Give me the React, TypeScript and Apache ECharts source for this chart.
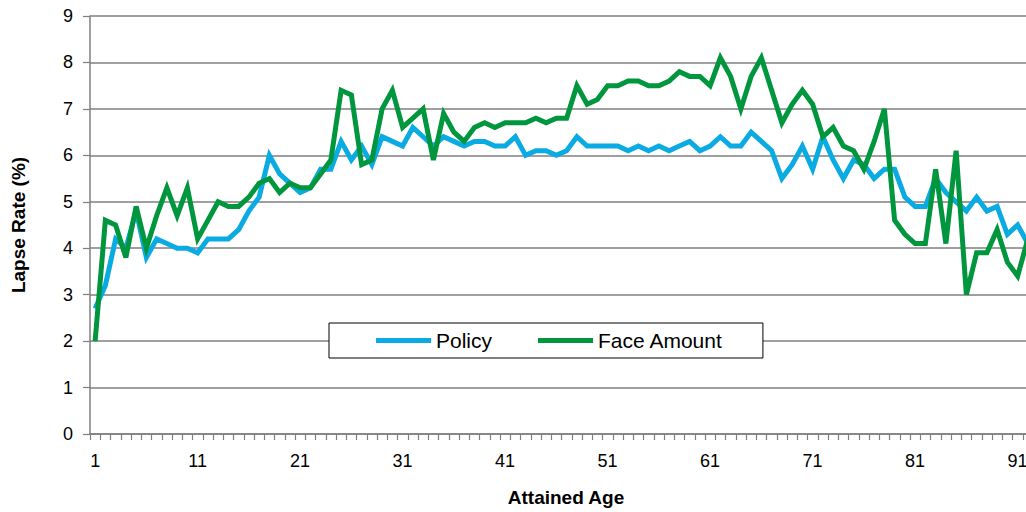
import React, { useEffect, useRef } from "react";
import * as echarts from "echarts";

const ages: string[] = [
  "1","2","3","4","5","6","7","8","9","10",
  "11","12","13","14","15","16","17","18","19","20",
  "21","22","23","24","25","26","27","28","29","30",
  "31","32","33","34","35","36","37","38","39","40",
  "41","42","43","44","45","46","47","48","49","50",
  "51","52","53","54","55","56","57","58","59","60",
  "61","62","63","64","65","66","67","68","69","70",
  "71","72","73","74","75","76","77","78","79","80",
  "81","82","83","84","85","86","87","88","89","90",
  "91","92",
];

const policy: number[] = [
  2.7, 3.2, 4.2, 4.0, 4.8, 3.8, 4.2, 4.1, 4.0, 4.0,
  3.9, 4.2, 4.2, 4.2, 4.4, 4.8, 5.1, 6.0, 5.6, 5.4,
  5.2, 5.3, 5.7, 5.7, 6.3, 5.9, 6.2, 5.8, 6.4, 6.3,
  6.2, 6.6, 6.4, 6.2, 6.4, 6.3, 6.2, 6.3, 6.3, 6.2,
  6.2, 6.4, 6.0, 6.1, 6.1, 6.0, 6.1, 6.4, 6.2, 6.2,
  6.2, 6.2, 6.1, 6.2, 6.1, 6.2, 6.1, 6.2, 6.3, 6.1,
  6.2, 6.4, 6.2, 6.2, 6.5, 6.3, 6.1, 5.5, 5.8, 6.2,
  5.7, 6.4, 5.9, 5.5, 5.9, 5.8, 5.5, 5.7, 5.7, 5.1,
  4.9, 4.9, 5.5, 5.2, 5.0, 4.8, 5.1, 4.8, 4.9, 4.3,
  4.5, 4.1,
];

const faceAmount: number[] = [
  2.0, 4.6, 4.5, 3.8, 4.9, 4.0, 4.7, 5.3, 4.7, 5.3,
  4.2, 4.6, 5.0, 4.9, 4.9, 5.1, 5.4, 5.5, 5.2, 5.4,
  5.3, 5.3, 5.6, 5.9, 7.4, 7.3, 5.8, 5.9, 7.0, 7.4,
  6.6, 6.8, 7.0, 5.9, 6.9, 6.5, 6.3, 6.6, 6.7, 6.6,
  6.7, 6.7, 6.7, 6.8, 6.7, 6.8, 6.8, 7.5, 7.1, 7.2,
  7.5, 7.5, 7.6, 7.6, 7.5, 7.5, 7.6, 7.8, 7.7, 7.7,
  7.5, 8.1, 7.7, 7.0, 7.7, 8.1, 7.4, 6.7, 7.1, 7.4,
  7.1, 6.4, 6.6, 6.2, 6.1, 5.7, 6.3, 7.0, 4.6, 4.3,
  4.1, 4.1, 5.7, 4.1, 6.1, 3.0, 3.9, 3.9, 4.4, 3.7,
  3.4, 4.2,
];

const seriesNames = ["Policy", "Face Amount"];

export default function App() {
  const ref = useRef<HTMLDivElement>(null);

  useEffect(() => {
    if (!ref.current) return;
    const chart = echarts.init(ref.current, null, { renderer: "svg" });
    const font = "'Liberation Sans', Arial, sans-serif";
    const axisGray = "#7f7f7f";
    const lineW = 5;
    chart.setOption({
      animation: false,
      backgroundColor: "#ffffff",
      grid: { left: 90, top: 16, bottom: 78, right: 7, containLabel: false },
      legend: {
        data: seriesNames,
        left: 329,
        top: 323,
        orient: "horizontal",
        icon: "rect",
        itemWidth: 55,
        itemHeight: 5,
        itemGap: 46,
        padding: [7, 40, 7, 47],
        borderColor: "#000000",
        borderWidth: 1,
        backgroundColor: "#ffffff",
        textStyle: { fontSize: 21, color: "#000000", fontFamily: font },
      },
      xAxis: {
        type: "category",
        data: ages,
        boundaryGap: true,
        name: "Attained Age",
        nameLocation: "middle",
        nameGap: 54,
        nameTextStyle: {
          fontSize: 19,
          fontWeight: "bold",
          color: "#000000",
          fontFamily: font,
          padding: [0, 0, 0, 9],
        },
        axisLine: { show: true, lineStyle: { color: axisGray, width: 1.5 } },
        axisTick: {
          show: true,
          interval: 0,
          length: 6,
          lineStyle: { color: axisGray, width: 1.2 },
        },
        axisLabel: {
          interval: 9,
          margin: 18,
          fontSize: 18,
          color: "#000000",
          fontFamily: font,
        },
        splitLine: { show: false },
      },
      yAxis: {
        type: "value",
        min: 0,
        max: 9,
        interval: 1,
        name: "Lapse Rate (%)",
        nameLocation: "middle",
        nameGap: 62,
        nameTextStyle: {
          fontSize: 19,
          fontWeight: "bold",
          color: "#000000",
          fontFamily: font,
        },
        axisLine: { show: true, lineStyle: { color: axisGray, width: 1.5 } },
        axisTick: { show: true, length: 7, lineStyle: { color: axisGray, width: 1.2 } },
        axisLabel: { margin: 17, fontSize: 18, color: "#000000", fontFamily: font },
        splitLine: { show: true, lineStyle: { color: axisGray, width: 1.5 } },
      },
      series: [
        {
          name: seriesNames[0],
          type: "line",
          data: policy,
          symbol: "none",
          lineStyle: { color: "#0aaae2", width: lineW, join: "miter" },
          itemStyle: { color: "#0aaae2" },
          emphasis: { disabled: true },
        },
        {
          name: seriesNames[1],
          type: "line",
          data: faceAmount,
          symbol: "none",
          lineStyle: { color: "#00963e", width: lineW, join: "miter" },
          itemStyle: { color: "#00963e" },
          emphasis: { disabled: true },
        },
      ],
    });
    return () => chart.dispose();
  }, []);

  return (
    <div
      ref={ref}
      style={{ position: "fixed", left: 0, top: 0, width: 1040, height: 512, background: "#fff" }}
    />
  );
}
